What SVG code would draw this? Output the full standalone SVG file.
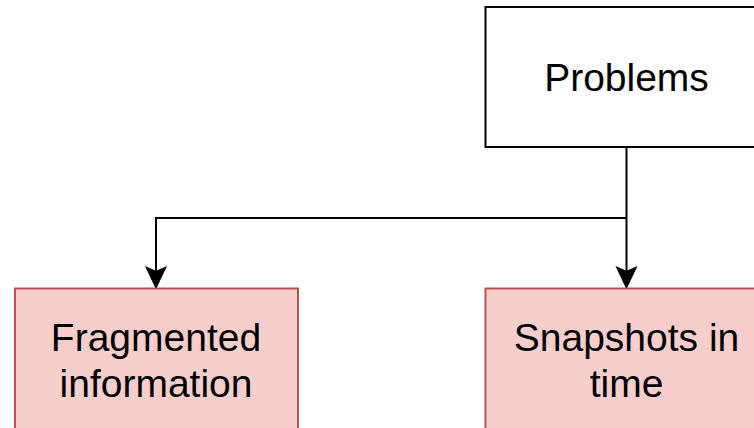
<svg xmlns="http://www.w3.org/2000/svg" width="754" height="428" viewBox="0 0 754 428">
<defs>
<style>
.box{stroke-width:2}
.plain{fill:#ffffff;stroke:#000000}
.red{fill:#f8cecc;stroke:#b85450}
.lbl{font-family:"Liberation Sans",Arial,sans-serif;font-size:39px;fill:#000000;text-anchor:middle}
.conn{fill:none;stroke:#000000;stroke-width:2}
.head{fill:#000000;stroke:#000000;stroke-width:2}
</style>
</defs>
<rect width="754" height="428" fill="#ffffff"/>
<g id="connectors">
<path class="conn" d="M626.5 147 L626.5 272"/>
<path class="conn" d="M626.5 218 L156 218 L156 272"/>
<path class="head" d="M156 287 L147 268 L156 272 L165 268 Z"/>
<path class="head" d="M626.5 287 L617.5 268 L626.5 272 L635.5 268 Z"/>
</g>
<g id="problems">
<rect class="box plain" x="485.5" y="7" width="283" height="140"/>
<text class="lbl" x="626.5" y="90.5">Problems</text>
</g>
<g id="fragmented">
<rect class="box red" x="15" y="288.5" width="283" height="150"/>
<text class="lbl" x="156" y="351">Fragmented</text>
<text class="lbl" x="156" y="397">information</text>
</g>
<g id="snapshots">
<rect class="box red" x="485.5" y="288.5" width="283" height="150"/>
<text class="lbl" x="626.5" y="351">Snapshots in</text>
<text class="lbl" x="626.5" y="397">time</text>
</g>
</svg>
